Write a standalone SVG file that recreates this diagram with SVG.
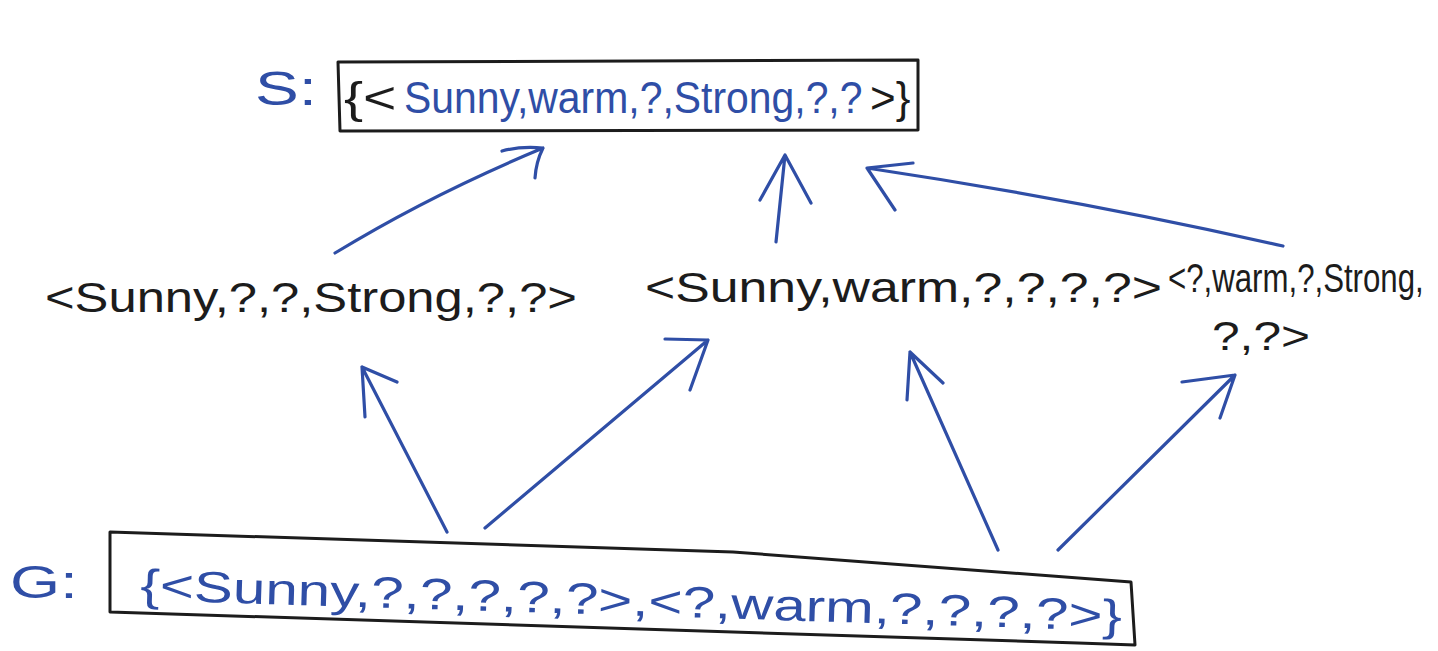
<svg xmlns="http://www.w3.org/2000/svg" width="1438" height="651" viewBox="0 0 1438 651">
<style>
.bg{fill:#ffffff}
.ink{fill:#1c1c1c}
.blue{fill:#2f4ea6}
text{font-family:"Liberation Sans","DejaVu Sans",sans-serif}
.box{fill:none;stroke:#1c1c1c;stroke-width:3;stroke-linejoin:round}
.arr{fill:none;stroke:#2f4ea6;stroke-width:3.2;stroke-linecap:round;stroke-linejoin:round}
</style>
<rect class="bg" x="0" y="0" width="1438" height="651"/>
<g id="S">
  <text class="blue" x="255" y="105" font-size="48" textLength="62" lengthAdjust="spacingAndGlyphs">S:</text>
  <polygon class="box" points="338,62 918,60 918,130 340,131"/>
  <text class="ink" font-size="44" transform="translate(344 113) scale(1.3 1)">{&lt;</text>
  <text class="blue" font-size="44" transform="translate(404 113) scale(0.93 1)">Sunny,warm,?,Strong,?,?</text>
  <text class="ink" x="870" y="113" font-size="44">&gt;}</text>
</g>
<g id="H1">
  <text class="ink" x="45" y="312" font-size="42" textLength="532" lengthAdjust="spacingAndGlyphs">&lt;Sunny,?,?,Strong,?,?&gt;</text>
</g>
<g id="H2">
  <text class="ink" x="645" y="302" font-size="42" textLength="517" lengthAdjust="spacingAndGlyphs">&lt;Sunny,warm,?,?,?,?&gt;</text>
</g>
<g id="H3">
  <text class="ink" font-size="40" transform="translate(1168 292) scale(0.78 1)">&lt;?,warm,?,Strong,</text>
  <text class="ink" x="1212" y="350" font-size="40" textLength="98" lengthAdjust="spacingAndGlyphs">?,?&gt;</text>
</g>
<g id="G">
  <text class="blue" x="10" y="598" font-size="46" textLength="68" lengthAdjust="spacingAndGlyphs">G:</text>
  <polygon class="box" points="110,532 733,552 1131,582 1135,645 1078,643 110,612"/>
  <text class="blue" x="140" y="600" font-size="44" textLength="982" lengthAdjust="spacingAndGlyphs" transform="rotate(1.8 140 600)">{&lt;Sunny,?,?,?,?,?&gt;,&lt;?,warm,?,?,?,?&gt;}</text>
</g>
<g id="connectors">
  <path class="arr" d="M335,253 Q430,195 543,148 M502,151 Q520,146 543,148 Q536,162 535,178"/>
  <path class="arr" d="M776,242 L785,155 M760,200 L785,155 L811,203"/>
  <path class="arr" d="M1283,246 Q1080,200 867,168 M913,163 L867,168 L895,210"/>
  <path class="arr" d="M447,532 L362,367 M365,417 L362,367 L397,382"/>
  <path class="arr" d="M485,528 L708,340 M665,339 L708,340 L690,390"/>
  <path class="arr" d="M998,550 L910,352 M907,400 L910,352 L943,383"/>
  <path class="arr" d="M1058,550 L1235,375 M1182,382 L1235,375 L1220,418"/>
</g>
</svg>
